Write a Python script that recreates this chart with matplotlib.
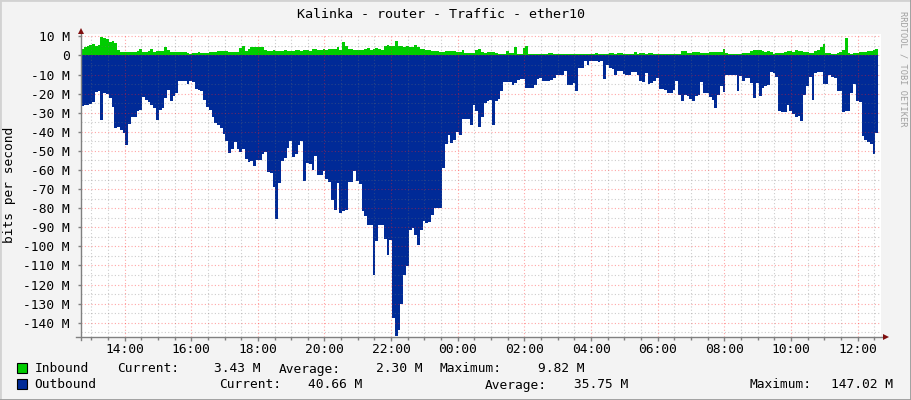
import numpy as np
import matplotlib
matplotlib.use('Agg')
import matplotlib.pyplot as plt
from matplotlib.patches import Rectangle
from matplotlib.lines import Line2D

# 5-minute samples, Mbit/s
inbound = [
    3.6, 4.3, 5.2, 5.6, 6.0, 5.2, 5.4, 9.82, 9.0, 8.6, 7.2, 7.4, 6.4, 3.0, 1.8, 1.7, 1.7, 1.7, 1.7, 1.7,
    2.2, 3.4, 2.0, 1.6, 2.4, 3.6, 1.8, 2.2, 2.4, 2.4, 4.2, 2.8, 1.7, 1.7, 1.6, 1.7, 2.0, 1.7, 1.3, 1.0,
    1.2, 1.5, 1.7, 1.4, 1.4, 1.5, 2.0, 1.8,
    1.7, 2.1, 2.1, 2.1, 2.1, 2.0, 1.7, 1.7, 2.0, 4.0, 5.2, 2.2, 3.6, 4.3, 4.6, 4.6, 4.4, 4.2, 2.6, 2.4,
    2.4, 2.8, 2.2, 2.1, 2.4, 2.8, 2.4, 2.4, 2.4, 2.8, 2.6, 2.4, 2.6, 2.6, 2.4, 3.4, 3.2, 3.0, 3.0, 3.4,
    3.0, 3.2, 3.4, 3.4, 4.3, 2.8, 7.0, 5.0,
    3.4, 3.2, 3.1, 3.1, 3.1, 3.1, 3.4, 4.0, 3.1, 3.4, 3.7, 3.4, 3.1, 5.2, 5.6, 4.8, 5.2, 7.4, 4.7, 5.2,
    4.3, 5.2, 4.5, 4.5, 5.6, 4.2, 3.4, 3.4, 3.1, 3.1, 2.4, 2.2, 2.1, 1.7, 1.7, 2.1, 2.1, 2.4, 2.4, 1.7,
    1.7, 3.1, 1.4, 1.4, 1.4, 1.4, 2.6,
    3.2, 2.0, 1.4, 1.7, 1.9, 1.7, 1.2, 0.8, 0.7, 0.7, 2.2, 1.4, 1.4, 4.6, 1.0, 1.0, 3.8, 5.0, 0.7, 0.7,
    0.7, 0.7, 0.7, 0.7, 0.7, 1.2, 1.2, 0.7, 0.7, 0.7, 0.7, 0.7, 0.7, 0.7, 0.7, 0.7, 0.7, 0.7, 0.7, 0.7,
    0.7, 0.7, 1.2, 0.7, 0.7, 0.7, 0.7, 1.2,
    1.2, 1.0, 1.4, 1.4, 0.8, 0.7, 0.7, 1.0, 2.0, 1.0, 1.4, 1.4, 1.0, 1.4, 1.4, 1.0, 1.0, 1.0, 1.0, 1.0,
    1.0, 1.0, 1.0, 1.0, 1.0, 2.2, 2.2, 1.4, 1.4, 2.0, 1.7, 1.7, 1.4, 1.4, 1.4, 1.7, 2.0, 1.7, 1.7, 1.7,
    3.4, 1.4, 1.0, 1.0, 1.0, 1.0, 1.0,
    1.2, 1.2, 1.4, 2.1, 2.8, 3.1, 2.8, 2.1, 1.7, 2.1, 1.7, 1.0, 1.2, 1.2, 1.2, 2.0, 2.1, 2.1, 1.7, 3.1,
    2.4, 2.1, 1.9, 1.7, 1.4, 1.4, 2.1, 3.0, 4.2, 5.9, 1.4, 1.2, 1.0, 1.0, 1.4, 1.7, 2.8, 9.0, 1.4, 0.7,
    1.2, 1.4, 1.7, 1.7, 1.7, 2.1, 2.1, 2.8, 3.43,
]

outbound = [
    26.7, 25.8, 26.2, 25.5, 24.4, 19.2, 18.8, 33.7, 19.7, 20.2, 22.3, 27.2, 38.0, 37.7, 38.9, 40.7,
    47.1, 36.0, 32.5, 32.0, 29.3, 28.4, 22.0, 23.2, 24.4, 26.2, 27.6, 33.7, 28.4, 27.6, 22.3, 18.0,
    24.1, 21.5, 19.7, 13.6, 13.3, 13.6, 14.7, 13.3, 14.0, 17.5, 18.0, 18.8, 23.2, 27.2, 28.4, 32.0,
    35.3, 36.3, 38.0, 41.2, 45.0, 51.1, 48.9, 45.4, 48.9, 50.6, 48.9, 54.1, 55.8, 55.5, 58.1, 54.6,
    54.6, 51.7, 50.6, 61.1, 61.8, 69.1, 85.5, 66.8, 55.5, 53.8, 48.5, 44.7, 53.4, 51.7, 46.8, 44.7,
    65.6, 56.4, 56.9, 59.9, 52.7, 62.5, 62.5, 60.4, 64.6, 66.3, 75.6, 80.8, 66.8, 82.5, 81.3, 80.8,
    66.3, 66.3, 60.7, 66.0, 67.4, 81.7, 84.3, 88.7, 88.7, 115.2, 97.4, 89.0, 88.7, 96.0, 104.4, 96.5,
    137.5, 147.02, 143.6, 130.2, 114.8, 110.5, 91.3, 90.4, 94.2, 99.1, 91.3, 86.9, 87.8, 87.4, 83.4,
    79.9, 79.9, 79.9, 59.0, 46.4, 41.9, 45.9, 44.2, 40.1, 41.5, 33.2, 33.2, 33.2, 36.3, 26.2, 29.3,
    37.7, 32.0, 25.0, 24.1, 23.2, 36.3, 23.7, 22.7, 18.5, 14.1, 14.0, 14.0, 15.4, 14.5, 12.7, 12.2,
    12.2, 16.8, 17.1, 17.1, 15.7, 12.2, 11.9, 13.3, 13.3, 13.3, 12.7, 11.9, 10.5, 10.1, 10.1, 8.0,
    15.7, 15.7, 14.5, 18.5, 6.6, 6.6, 3.1, 4.9, 2.8, 3.1, 3.1, 3.5, 3.1, 12.2, 5.2, 6.6,
    7.0, 10.1, 8.0, 8.0, 9.8, 10.5, 10.1, 8.7, 8.7, 10.1, 13.3, 14.0, 9.2, 15.0, 14.5, 13.6,
    11.9, 17.5, 17.5, 18.0, 19.9, 19.7, 18.0, 13.6, 20.6, 24.1, 20.6, 21.5, 22.7, 23.7, 21.5, 20.6,
    14.0, 19.7, 19.7, 22.0, 23.2, 27.6, 20.6, 16.2, 19.2, 10.5, 10.5, 10.5, 10.5, 18.8, 11.0,
    13.6, 11.9, 11.9, 14.5, 22.3, 14.5, 21.5, 16.8, 16.2, 15.7, 8.7, 9.2, 11.5, 29.3, 29.7, 29.7,
    26.2, 29.3, 30.7, 32.1, 31.9, 34.6, 20.6, 16.2, 11.5, 23.2, 9.2, 8.7, 8.7, 15.0, 15.0, 10.1,
    11.5, 11.9, 18.8, 18.8, 29.7, 29.0, 29.3, 19.7, 15.0, 24.1, 24.4, 42.4, 44.2, 45.4, 46.4, 51.7,
    40.66,
]

t_start = 12.695          # hours, left edge of graph (12:42)
step_h = 5 / 60.0
xtick_hours = [14, 16, 18, 20, 22, 24, 26, 28, 30, 32, 34, 36]
xtick_labels = ['14:00', '16:00', '18:00', '20:00', '22:00', '00:00',
                '02:00', '04:00', '06:00', '08:00', '10:00', '12:00']
ytick_vals = [10, 0, -10, -20, -30, -40, -50, -60, -70, -80, -90, -100, -110, -120, -130, -140]
ytick_labels = ['%d M' % v if v != 0 else '0' for v in ytick_vals]

legend_rows = [
    ('Inbound', '#00CC00', [('Current:', 116.7, '3.43 M', 260), ('Average:', 278.7, '2.30 M', 422.7),
                            ('Maximum:', 440, '9.82 M', 584.3)]),
    ('Outbound', '#002A97', [('Current:', 219, '40.66 M', 362.7), ('Average:', 485, '35.75 M', 628.3),
                             ('Maximum:', 749.3, '147.02 M', 893.3)]),
]

W, H = 911, 400
mono = 'DejaVu Sans Mono'
grey_bg = '#F3F3F3'


def fx(px):
    return px / W


def fy(py):
    return 1 - py / H


fig = plt.figure(figsize=(W / 100, H / 100), dpi=100, facecolor=grey_bg)
ax = fig.add_axes([fx(81), fy(337), 800 / W, (337 - 33.5) / H])
ax.set_facecolor('white')

edges = t_start + np.arange(len(outbound) + 1) * step_h
ax.stairs(-np.array(outbound), edges, baseline=0, fill=True, color='#002A97', lw=0, zorder=1)
edges_in = t_start + np.arange(len(inbound) + 1) * step_h
ax.stairs(np.array(inbound), edges_in, baseline=0, fill=True, color='#00CC00', lw=0, zorder=1)

ax.set_xlim(t_start, t_start + 24)
ax.set_ylim(-147.5, 11.5)

ax.set_xticks(xtick_hours)
ax.set_xticklabels(xtick_labels, fontfamily=mono, fontsize=9.3)
ax.set_xticks(np.arange(13.0, 36.6, 0.5), minor=True)
ax.set_yticks(ytick_vals)
ax.set_yticklabels(ytick_labels, fontfamily=mono, fontsize=9.3)
ax.set_yticks(np.arange(-145, 11, 5), minor=True)

ax.tick_params(which='both', color='#808080', width=1, direction='out')
ax.tick_params(axis='x', which='major', length=3, pad=1.5)
ax.tick_params(axis='x', which='minor', length=2)
ax.tick_params(axis='y', which='major', length=2, pad=6)
ax.tick_params(axis='y', which='minor', length=0)

ax.set_axisbelow(False)
ax.grid(True, which='minor', color='#707070', linestyle=(0, (1, 2)), linewidth=0.8, alpha=0.35)
ax.grid(True, which='major', color='#FF2020', linestyle=(0, (1, 2)), linewidth=0.8, alpha=0.4)

for s in ax.spines.values():
    s.set_visible(False)

# axes with arrows, RRDtool style
fig.add_artist(Line2D([fx(76), fx(884)], [fy(337), fy(337)], color='#808080', lw=1))
fig.add_artist(Line2D([fx(81), fx(81)], [fy(340), fy(33)], color='#808080', lw=1))
fig.add_artist(Line2D([fx(886)], [fy(337)], marker='>', ms=5, color='#7F1010', mew=0))
fig.add_artist(Line2D([fx(81)], [fy(31)], marker='^', ms=5, color='#7F1010', mew=0))

fig.text(fx(441), fy(14), 'Kalinka - router - Traffic - ether10', ha='center', va='center',
         fontfamily=mono, fontsize=9.6, color='black')
fig.text(fx(10), fy(185), 'bits per second', ha='center', va='center', rotation=90,
         fontfamily=mono, fontsize=9.3)
fig.text(fx(903), fy(69), 'RRDTOOL / TOBI OETIKER', ha='center', va='center', rotation=270,
         fontfamily=mono, fontsize=6.2, color='#A0A0A0')

for row, (name, col, items) in enumerate(legend_rows):
    base = 372.5 + row * 16
    fig.add_artist(Rectangle((fx(17), fy(base)), 10 / W, 10 / H, facecolor=col, edgecolor='black', lw=0.8))
    fig.text(fx(34.7), fy(base), name, ha='left', va='baseline', fontfamily=mono, fontsize=9.3)
    for lab, lx, val, vx in items:
        fig.text(fx(lx), fy(base), lab, ha='left', va='baseline', fontfamily=mono, fontsize=9.3)
        fig.text(fx(vx), fy(base), val, ha='right', va='baseline', fontfamily=mono, fontsize=9.3)

# frame around the image
fig.add_artist(Line2D([0, 0, 1], [0, 1, 1], color='#D2D2D2', lw=2))
fig.add_artist(Line2D([0, 1, 1], [0.0, 0.0, 1], color='#9A9A9A', lw=2))

fig.savefig('out.png', dpi=100, facecolor=grey_bg)
plt.close(fig)
